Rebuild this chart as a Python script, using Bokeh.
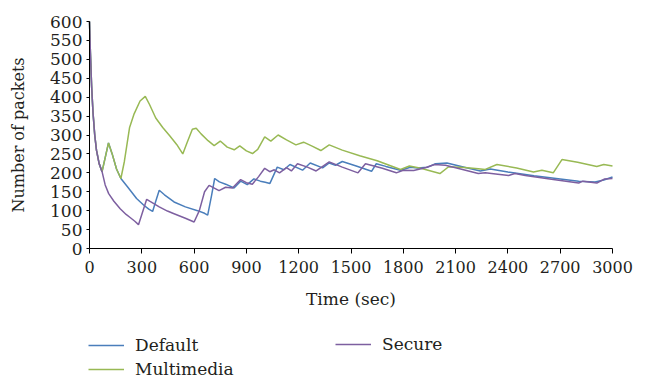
from bokeh.plotting import figure
from bokeh.models import Legend, LegendItem, Range1d, FixedTicker, Label
from bokeh.embed import file_html
from bokeh.resources import INLINE

# ---- data ----
t_multimedia = [0, 5, 12, 20, 30, 40, 55, 72, 90, 109, 130, 155, 180, 200, 230, 256, 290, 320,
                345, 380, 420, 460, 500, 535, 560, 590, 612, 640, 680, 715, 750, 790, 830, 862,
                900, 935, 965, 1005, 1040, 1082, 1130, 1184, 1228, 1280, 1327, 1375, 1450, 1550,
                1650, 1784, 1835, 1900, 2010, 2060, 2150, 2230, 2270, 2337, 2450, 2547, 2595,
                2660, 2710, 2800, 2910, 2950, 3000]
multimedia = [600, 520, 430, 360, 300, 260, 225, 203, 240, 279, 250, 210, 185, 230, 320, 356, 390, 402,
              380, 345, 320, 298, 275, 250, 280, 315, 318, 303, 285, 272, 284, 268, 261, 271,
              258, 251, 262, 295, 284, 300, 287, 274, 281, 270, 259, 274, 260, 245,
              232, 209, 218, 212, 198, 216, 214, 211, 209, 222, 213, 202, 207,
              200, 235, 228, 217, 222, 218]

t_default = [0, 5, 12, 20, 30, 40, 55, 72, 90, 109, 130, 155, 180, 220, 270, 310, 340, 362, 380,
             400, 430, 485, 550, 620, 660, 678, 700, 718, 745, 781, 829, 867, 905, 943, 980,
             1008, 1035, 1077, 1115, 1150, 1222, 1266, 1337, 1375, 1411, 1450, 1530, 1618,
             1645, 1700, 1784, 1841, 1882, 1940, 1985, 2050, 2150, 2242, 2299, 2400, 2550,
             2700, 2806, 2900, 2950, 3000]
default = [600, 520, 430, 360, 300, 260, 225, 203, 240, 279, 250, 210, 185, 162, 132, 115, 104, 98, 125,
           154, 142, 123, 110, 100, 93, 88, 140, 185, 176, 170, 160, 178, 169, 184, 178,
           175, 172, 215, 208, 222, 207, 226, 213, 226, 220, 230, 218, 204,
           224, 217, 207, 215, 213, 215, 224, 226, 215, 205, 210, 202, 192,
           184, 178, 176, 181, 189]

t_secure = [0, 5, 12, 20, 30, 40, 55, 72, 90, 110, 140, 176, 210, 233, 260, 281, 300, 328, 345,
            400, 447, 485, 550, 600, 630, 660, 686, 743, 781, 820, 867, 900, 934, 970, 1005,
            1034, 1060, 1090, 1130, 1158, 1193, 1250, 1300, 1340, 1375, 1450, 1540, 1583,
            1680, 1760, 1800, 1860, 1930, 1980, 2042, 2140, 2230, 2270, 2330, 2404, 2440,
            2500, 2650, 2806, 2830, 2910, 2955, 3000]
secure = [600, 520, 430, 360, 300, 260, 225, 203, 168, 145, 125, 105, 90, 82, 72, 63, 90, 130, 125,
          110, 99, 92, 80, 70, 100, 150, 167, 153, 162, 160, 182, 174, 170, 190, 212,
          203, 208, 200, 214, 205, 224, 215, 205, 218, 229, 215, 200, 224,
          212, 200, 207, 206, 214, 222, 220, 209, 198, 200, 197, 193, 198,
          193, 183, 173, 178, 173, 184, 185]

x_ticks = [0, 300, 600, 900, 1200, 1500, 1800, 2100, 2400, 2700, 3000]
y_ticks = [0, 50, 100, 150, 200, 250, 300, 350, 400, 450, 500, 550, 600]

BLUE = "#4A7EBB"
GREEN = "#98B954"
PURPLE = "#7D5FA0"
FONT = "DejaVu Serif"
TXT = "#231F20"

W, H = 647, 381
# pixel placement of the data area inside the canvas
PX_X0, PX_X1 = 89, 612      # x = 0 and x = 3000
PX_Y0, PX_Y1 = 248, 21      # y = 0 and y = 600
sx = (PX_X1 - PX_X0) / 3000.0
sy = (PX_Y0 - PX_Y1) / 600.0
x_lo, x_hi = -PX_X0 / sx, 3000 + (W - PX_X1) / sx
y_lo, y_hi = -(H - PX_Y0) / sy, 600 + PX_Y1 / sy

p = figure(width=W, height=H, output_backend="svg", toolbar_location=None,
           x_range=Range1d(x_lo, x_hi), y_range=Range1d(y_lo, y_hi),
           min_border=0)
p.outline_line_color = None
p.grid.visible = False
p.background_fill_color = "white"
p.border_fill_color = "white"

r_def = p.line(t_default, default, line_color=BLUE, line_width=1.5)
r_mm = p.line(t_multimedia, multimedia, line_color=GREEN, line_width=1.5)
r_sec = p.line(t_secure, secure, line_color=PURPLE, line_width=1.5)

for ax in (p.xaxis[0], p.yaxis[0]):
    ax.fixed_location = 0
    ax.axis_line_color = "black"
    ax.major_tick_line_color = "black"
    ax.minor_tick_line_color = None
    ax.major_tick_in = 0
    ax.major_label_text_font = FONT
    ax.major_label_text_color = TXT

p.xaxis.bounds = (0, 3000)
p.yaxis.bounds = (0, 600)
p.xaxis.major_label_text_font_size = "16px"
p.yaxis.major_label_text_font_size = "17px"
p.xaxis.ticker = FixedTicker(ticks=x_ticks)
p.yaxis.ticker = FixedTicker(ticks=y_ticks)
p.xaxis.major_tick_out = 5
p.yaxis.major_tick_out = 3
p.xaxis.major_label_standoff = 7
p.yaxis.major_label_standoff = 4

# axis titles
p.add_layout(Label(x=1500, y=0, y_offset=-50, text="Time (sec)", text_align="center",
                   text_baseline="middle", text_font=FONT, text_font_size="17px",
                   text_color=TXT))
p.add_layout(Label(x=0, y=300, x_offset=-71, text="Number of packets", angle=90,
                   angle_units="deg", text_align="center", text_baseline="middle",
                   text_font=FONT, text_font_size="16px", text_color=TXT))

def make_legend(items, loc):
    return Legend(items=items, location=loc, orientation="vertical",
                  glyph_width=36, glyph_height=20, label_standoff=11, spacing=4,
                  padding=0, margin=0, border_line_color=None, background_fill_alpha=0,
                  label_text_font=FONT, label_text_font_size="17px", label_text_color=TXT,
                  label_height=20)

lg1 = make_legend([LegendItem(label="Default", renderers=[r_def]),
                   LegendItem(label="Multimedia", renderers=[r_mm])], (88, 2))
lg2 = make_legend([LegendItem(label="Secure", renderers=[r_sec])], (335, 27))
p.add_layout(lg1)
p.add_layout(lg2)

open("out.html", "w").write(file_html(p, INLINE))
